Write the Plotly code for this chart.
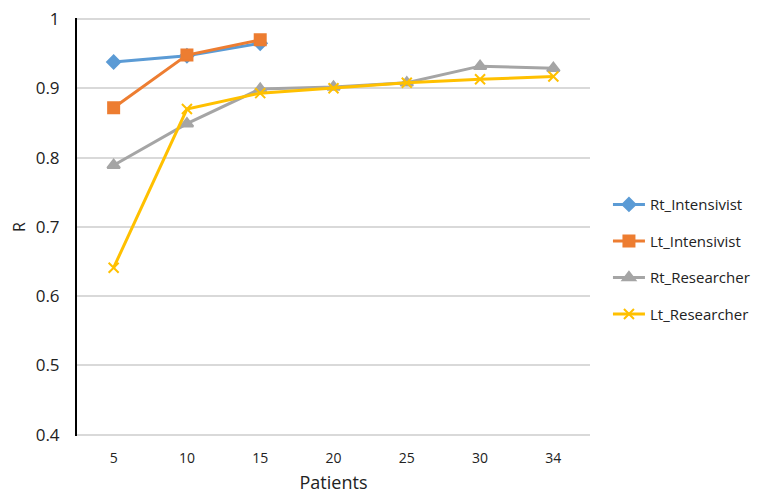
import plotly.graph_objects as go

patients = ["5", "10", "15", "20", "25", "30", "34"]
rt_intensivist = [0.938, 0.947, 0.965]
lt_intensivist = [0.872, 0.948, 0.970]
rt_researcher = [0.789, 0.849, 0.899, 0.902, 0.908, 0.932, 0.929]
lt_researcher = [0.641, 0.870, 0.893, 0.900, 0.908, 0.913, 0.917]
y_ticks = [0.4, 0.5, 0.6, 0.7, 0.8, 0.9, 1.0]
y_ticktext = ["0.4", "0.5", "0.6", "0.7", "0.8", "0.9", "1"]

series = [
    ("Rt_Intensivist", rt_intensivist, "#5B9BD5", "diamond", 10),
    ("Lt_Intensivist", lt_intensivist, "#ED7D31", "square", 11),
    ("Rt_Researcher", rt_researcher, "#A5A5A5", "triangle-up", 11),
    ("Lt_Researcher", lt_researcher, "#FFC000", "x-thin-open", 10),
]

fig = go.Figure()
for i, (name, vals, color, sym, size) in enumerate(series):
    fig.add_trace(go.Scatter(
        x=patients[:len(vals)], y=vals, name=name, mode="lines+markers",
        line=dict(color=color, width=3),
        marker=dict(symbol=sym, size=size, color=color,
                    line=dict(color=color, width=2)),
        legendgroup=f"g{i}",
    ))

font = "Open Sans, Liberation Sans, sans-serif"
fig.update_layout(
    width=768, height=493,
    margin=dict(l=69, r=186, t=10, b=65),
    paper_bgcolor="white", plot_bgcolor="white",
    font=dict(family=font, color="#222222", size=13),
    showlegend=True,
    legend=dict(x=1.035, y=0.423, xanchor="left", yanchor="middle",
                font=dict(size=15, color="#222222"),
                traceorder="grouped", tracegroupgap=14, itemwidth=32),
    xaxis=dict(type="category", categoryorder="array", categoryarray=patients,
               showgrid=False, showline=False, zeroline=False,
               ticks="", tickfont=dict(size=14), automargin=False,
               ticklabelstandoff=12,
               title=dict(text="Patients", font=dict(size=18), standoff=10),
               range=[-0.5, 6.5]),
    yaxis=dict(range=[0.398, 1.0015], tickvals=y_ticks, ticktext=y_ticktext,
               showgrid=True, gridcolor="#D9D9D9", gridwidth=1.5,
               showline=True, linecolor="black", linewidth=2,
               zeroline=False, ticks="", tickfont=dict(size=17),
               ticklabelstandoff=12, automargin=False,
               ticklabeloverflow="allow",
               title=dict(text="R", font=dict(size=16), standoff=14)),
)

fig.write_html("out.html")
